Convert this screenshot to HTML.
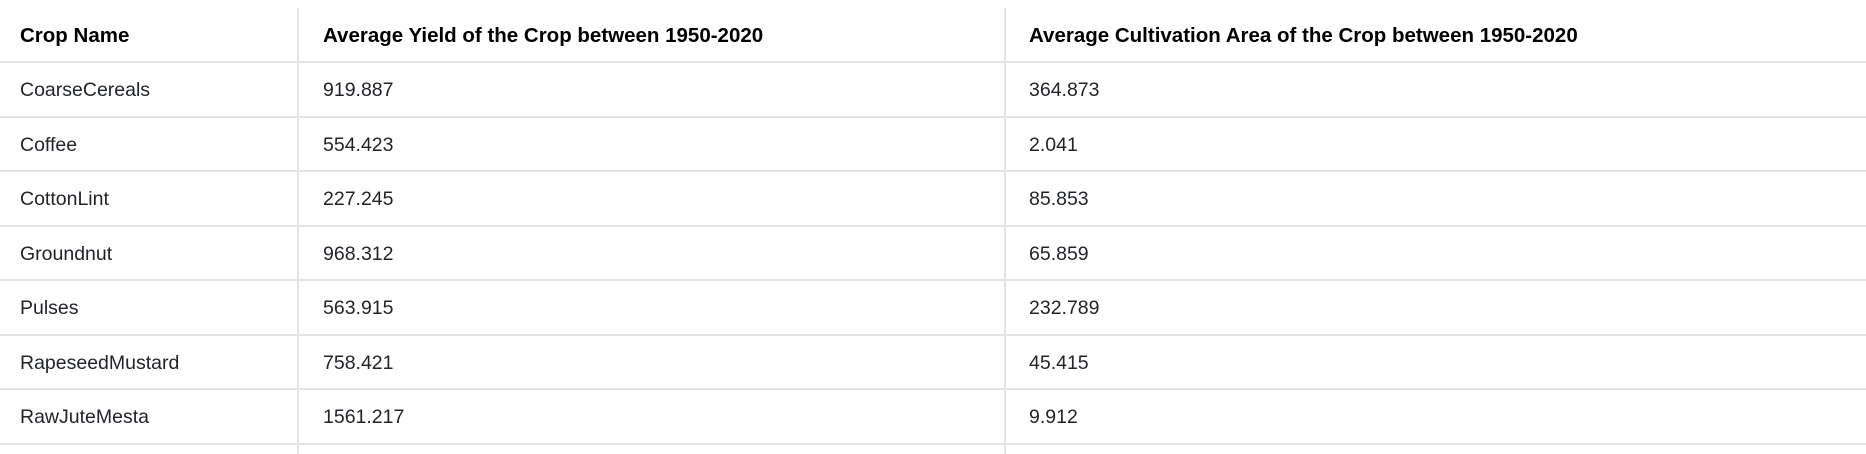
<!DOCTYPE html>
<html><head><meta charset="utf-8"><style>
body{margin:0;width:1866px;height:454px;background:#fff;overflow:hidden;font-family:"Liberation Sans",sans-serif;color:#212529;position:relative}
.hl{position:absolute;left:0;width:1866px;height:2px;background:#e3e4e8}
.vl{position:absolute;top:8px;width:2px;height:446px;background:#e3e4e8}
.c{position:absolute;font-size:19.5px;line-height:54px;white-space:nowrap}
.h{font-weight:bold;font-size:20.5px;color:#000}
</style></head><body>
<div class="vl" style="left:297px"></div>
<div class="vl" style="left:1004px"></div>
<script>
const crops=["CoarseCereals","Coffee","CottonLint","Groundnut","Pulses","RapeseedMustard","RawJuteMesta"];
const yields=["919.887","554.423","227.245","968.312","563.915","758.421","1561.217"];
const areas=["364.873","2.041","85.853","65.859","232.789","45.415","9.912"];
const headers=["Crop Name","Average Yield of the Crop between 1950-2020","Average Cultivation Area of the Crop between 1950-2020"];
const colX=[20,323,1029];
const t=document.body;
function cell(txt,x,y,cls,name){
  const d=document.createElement('div');
  d.className='c '+cls;d.style.left=x+'px';d.style.top=y+'px';d.textContent=txt;
  
  
  t.appendChild(d);
}
headers.forEach((h,i)=>cell(h,colX[i],9,'h','header-cell'));
const rowH=54.57;
for(let r=0;r<=crops.length;r++){
  const l=document.createElement('div');
  l.className='hl';l.style.top=Math.round(61+r*rowH)+'px';
  
  
  t.appendChild(l);
}
crops.forEach((c,r)=>{
  const y=Math.round(63+r*rowH);
  cell(c,colX[0],y,'','crop-name-cell');
  cell(yields[r],colX[1],y,'','yield-cell');
  cell(areas[r],colX[2],y,'','area-cell');
});
</script>
</body></html>
